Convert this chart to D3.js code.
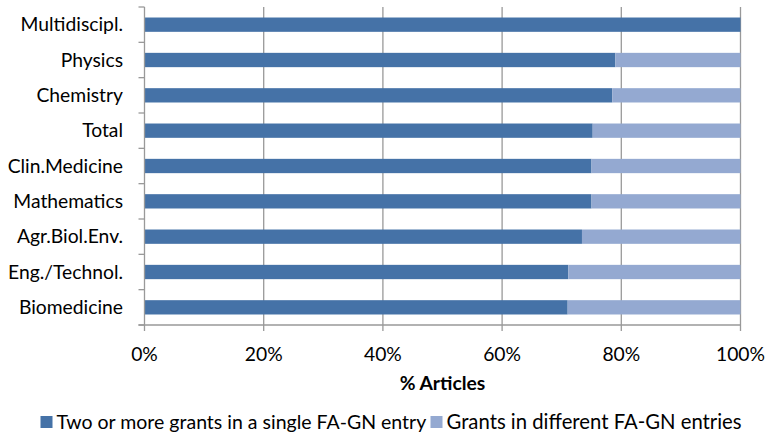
<!DOCTYPE html>
<html><head><meta charset="utf-8">
<script src="https://cdn.jsdelivr.net/npm/d3@7"></script>
<style>
html,body{margin:0;padding:0;background:#fff;}
svg{display:block;font-family:Lato,"Open Sans",sans-serif;}
</style></head>
<body><svg id="chart" width="767" height="436"></svg>
<script>
const categories = ["Multidiscipl.","Physics","Chemistry","Total","Clin.Medicine","Mathematics","Agr.Biol.Env.","Eng./Technol.","Biomedicine"];
const singleEntry = [100, 79.0, 78.5, 75.2, 75.0, 75.0, 73.4, 71.1, 71.0];
const differentEntries = categories.map((c,i)=>100-singleEntry[i]);
const seriesNames = ["Two or more grants in a single FA-GN entry","Grants in different FA-GN entries"];
const xTicks = [0,20,40,60,80,100];
const axisTitle = "% Articles";
const colors = ["#4572a7","#94a9d1"];

(function(){
const svg = d3.select("#chart");
const fs = 19.3;
const pLeft = 144.5, pRight = 740.5, pTop = 7, pBottom = 325;
const x = d3.scaleLinear().domain([0,100]).range([pLeft,pRight]);
const y = d3.scaleBand().domain(categories).range([pTop,pBottom]).paddingInner(0.595).paddingOuter(0.2975);

// gridlines
svg.append("g").selectAll("line").data(xTicks.slice(1)).join("line")
  .attr("x1",d=>x(d)).attr("x2",d=>x(d)).attr("y1",pTop).attr("y2",pBottom+6)
  .attr("stroke","#999").attr("stroke-width",1.3);

// stacked bars
const rows = categories.map((c,i)=>({cat:c, a:singleEntry[i], b:differentEntries[i]}));
const stack = d3.stack().keys(["a","b"])(rows);
svg.append("g").selectAll("g").data(stack).join("g").attr("fill",(d,i)=>colors[i])
  .selectAll("rect").data(d=>d).join("rect")
  .attr("x",d=>x(d[0])).attr("width",d=>x(d[1])-x(d[0]))
  .attr("y",d=>y(d.data.cat)).attr("height",y.bandwidth());

// y axis line + ticks
const step = y.step();
svg.append("line").attr("x1",pLeft).attr("x2",pLeft).attr("y1",pTop).attr("y2",pBottom+6).attr("stroke","#999").attr("stroke-width",1.3);
const bounds = d3.range(categories.length+1).map(i=>pTop+i*step);
svg.append("g").selectAll("line").data(bounds).join("line")
  .attr("x1",pLeft-6).attr("x2",pLeft).attr("y1",d=>d).attr("y2",d=>d)
  .attr("stroke","#999").attr("stroke-width",1.3);
// x axis line
svg.append("line").attr("x1",pLeft-6).attr("x2",pRight).attr("y1",pBottom).attr("y2",pBottom).attr("stroke","#999").attr("stroke-width",1.3);

// y labels
svg.append("g").selectAll("text").data(categories).join("text")
  .attr("x",123).attr("y",d=>y(d)+y.bandwidth()/2).attr("dy","0.35em")
  .attr("text-anchor","end").attr("font-size",fs).attr("fill","#000").text(d=>d);

// x labels
svg.append("g").selectAll("text").data(xTicks).join("text")
  .attr("x",d=>x(d)).attr("y",361).attr("text-anchor","middle")
  .attr("font-size",fs).attr("fill","#000").text(d=>d+"%");

svg.append("text").attr("x",(pLeft+pRight)/2).attr("y",390).attr("text-anchor","middle")
  .attr("font-size",fs).attr("font-weight","bold").text(axisTitle);

// legend
const lg = svg.append("g");
const legendX = [40.5, 430.5];
seriesNames.forEach((n,i)=>{
  lg.append("rect").attr("x",legendX[i]).attr("y",416).attr("width",12).attr("height",12).attr("fill",colors[i]);
  lg.append("text").attr("x",legendX[i]+16).attr("y",429).attr("font-size",i===0?19.5:20.3).attr("fill","#000").text(n);
});
})();
</script></body></html>
